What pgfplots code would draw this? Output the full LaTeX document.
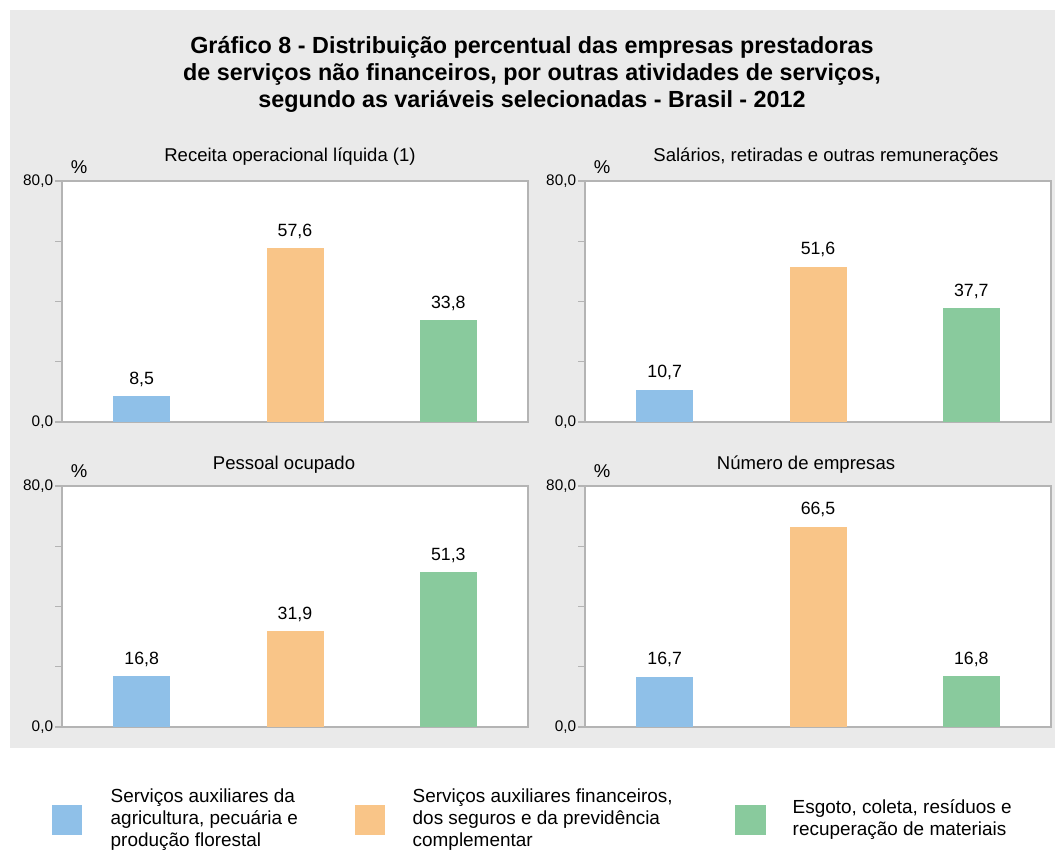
\documentclass[border=0pt]{standalone}
\usepackage{pgfplots}
\pgfplotsset{compat=1.18}
\usepackage{fontspec}
\setmainfont{Liberation Sans}
\definecolor{bgc}{HTML}{EAEAEA}
\definecolor{cblue}{HTML}{8FC0E8}
\definecolor{corange}{HTML}{F9C588}
\definecolor{cgreen}{HTML}{89CA9D}
\definecolor{axc}{HTML}{B4B4B4}
\newcommand\PP[2]{({(#1)*0.75pt},{(850-(#2))*0.75pt})}
\pgfplotsset{
  panel/.style={
    scale only axis, width=349.5pt, height=180.75pt,
    anchor=south west,
    ymin=0, ymax=80, xmin=-0.52, xmax=2.52,
    ytick={0,20,40,60,80}, yticklabels={{0,0},,,,{80,0}},
    xtick=\empty, ytick pos=left, tick align=outside,
    major tick length=5pt,
    axis line style={draw=axc, line width=0.9pt},
    every tick/.style={draw=axc, line width=0.9pt},
    axis background/.style={fill=white},
    yticklabel style={font=\fontsize{11.5}{13}\selectfont, inner sep=1.5pt},
    /pgf/number format/assume math mode=true,
    ybar, bar width=42.75pt, bar shift=0pt,
    nodes near coords={\pgfmathprintnumber[use comma,fixed,fixed zerofill,precision=1]{\pgfplotspointmeta}},
    every node near coord/.append style={font=\fontsize{13.3}{15}\selectfont, color=black, inner sep=0pt, yshift=7pt},
    clip=false,
  },
  bb/.style={fill=cblue, draw=none},
  bo/.style={fill=corange, draw=none},
  bg/.style={fill=cgreen, draw=none},
}
\begin{document}
\begin{tikzpicture}
\fill[white] \PP{0}{0} rectangle \PP{1055}{850};
\fill[bgc] \PP{10}{10} rectangle \PP{1055}{748};
\node[align=center, font=\fontsize{17.5}{20.25}\selectfont\bfseries] at \PP{532}{74}
  {Gráfico 8 - Distribuição percentual das empresas prestadoras\\de serviços não financeiros, por outras atividades de serviços,\\segundo as variáveis selecionadas - Brasil - 2012};
\tikzset{st/.style={font=\fontsize{13.9}{15}\selectfont}}
\node[st] at \PP{290}{157} {Receita operacional líquida (1)};
\node[st] at \PP{826}{157} {Salários, retiradas e outras remunerações};
\node[st] at \PP{284}{465} {Pessoal ocupado};
\node[st] at \PP{806}{465} {Número de empresas};
\node[st] at \PP{79}{167} {\%};
\node[st] at \PP{602}{167} {\%};
\node[st] at \PP{79}{471} {\%};
\node[st] at \PP{602}{471} {\%};

\begin{axis}[panel, at={(46.5pt,321pt)}]
\addplot[bb] coordinates {(0,8.5)};
\addplot[bo] coordinates {(1,57.6)};
\addplot[bg] coordinates {(2,33.8)};
\end{axis}
\begin{axis}[panel, at={(438.75pt,321pt)}]
\addplot[bb] coordinates {(0,10.7)};
\addplot[bo] coordinates {(1,51.6)};
\addplot[bg] coordinates {(2,37.7)};
\end{axis}
\begin{axis}[panel, at={(46.5pt,92.25pt)}]
\addplot[bb] coordinates {(0,16.8)};
\addplot[bo] coordinates {(1,31.9)};
\addplot[bg] coordinates {(2,51.3)};
\end{axis}
\begin{axis}[panel, at={(438.75pt,92.25pt)}]
\addplot[bb] coordinates {(0,16.7)};
\addplot[bo] coordinates {(1,66.5)};
\addplot[bg] coordinates {(2,16.8)};
\end{axis}

\tikzset{lt/.style={anchor=west, align=left, font=\fontsize{14.2}{16.5}\selectfont}}
\fill[cblue] \PP{52}{805} rectangle \PP{82}{835};
\node[lt] at \PP{106}{820} {Serviços auxiliares da\\agricultura, pecuária e\\produção florestal};
\fill[corange] \PP{355}{805} rectangle \PP{385}{835};
\node[lt] at \PP{408}{820} {Serviços auxiliares financeiros,\\dos seguros e da previdência\\complementar};
\fill[cgreen] \PP{735}{805} rectangle \PP{766}{835};
\node[lt] at \PP{788}{820} {Esgoto, coleta, resíduos e\\recuperação de materiais};
\end{tikzpicture}
\end{document}
